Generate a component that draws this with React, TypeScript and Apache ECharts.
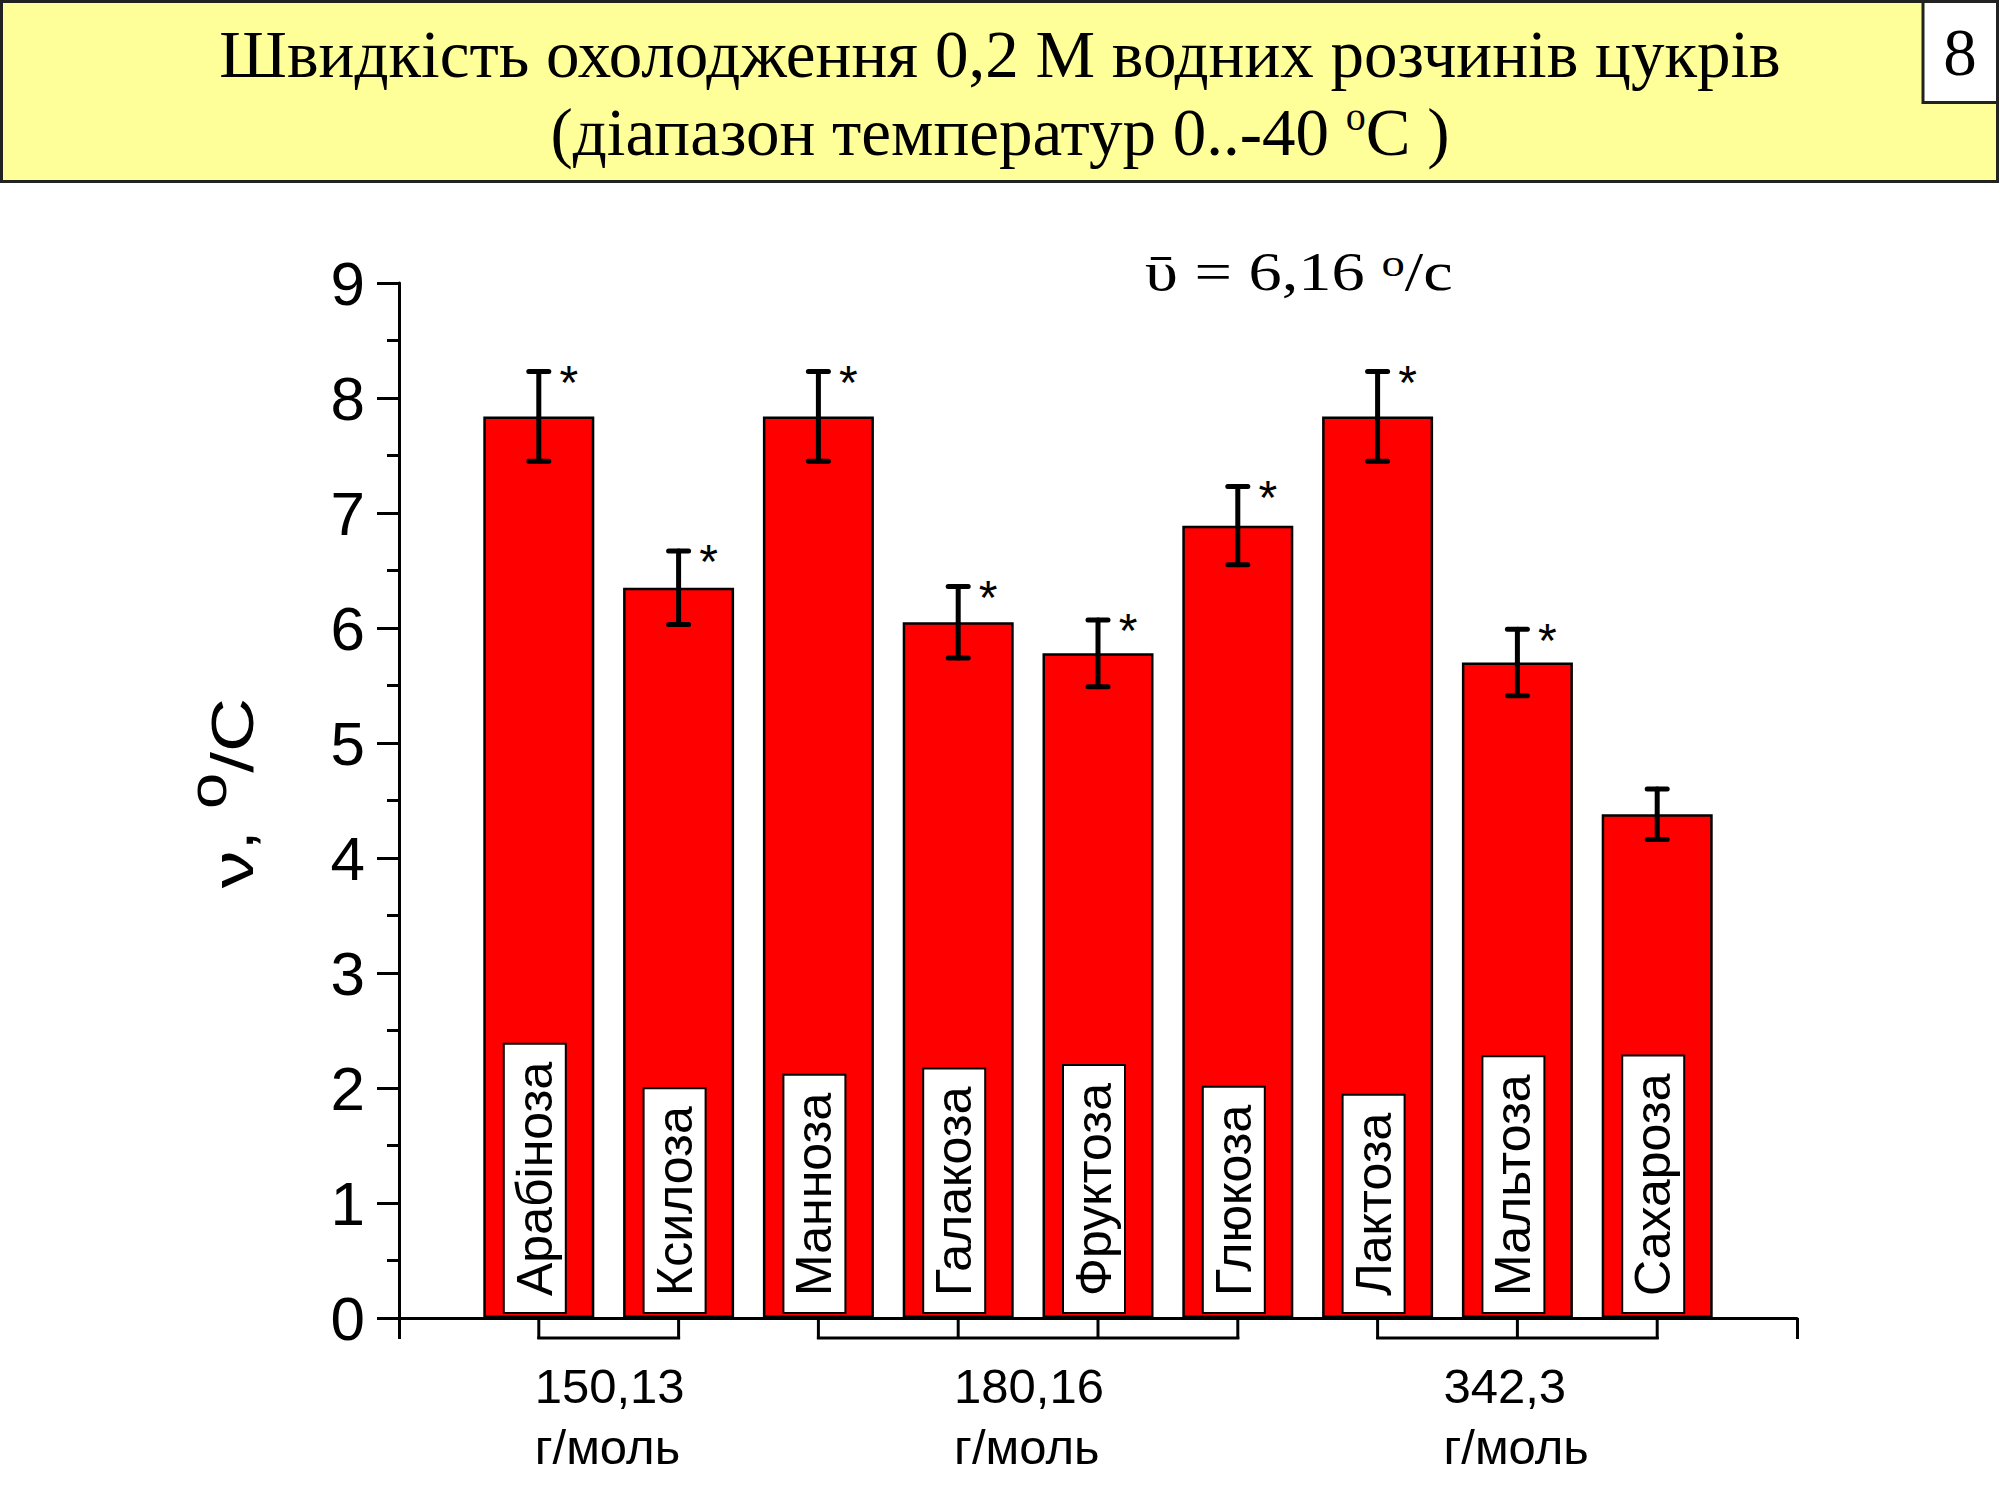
import React, { useEffect, useRef } from "react";
import * as echarts from "echarts";

const sugars = ["Арабіноза", "Ксилоза", "Манноза", "Галакоза", "Фруктоза", "Глюкоза", "Лактоза", "Мальтоза", "Сахароза"];
const rates = [7.84, 6.35, 7.84, 6.05, 5.78, 6.89, 7.84, 5.7, 4.38];
const errors = [0.39, 0.32, 0.39, 0.31, 0.29, 0.34, 0.39, 0.29, 0.22];
const significant = [true, true, true, true, true, true, true, true, false];
const positions = sugars.map((_, i) => i + 1);
const groupLabels = ["150,13\nг/моль", "180,16\nг/моль", "342,3\nг/моль"];
const groupRanges = [[1, 2], [3, 6], [7, 9]];
const yMin = 0;
const yMax = 9;
const yStep = 1;
const xMin = 0;
const xMax = 10;

const titleLine1 = "Швидкість охолодження 0,2 М водних розчинів цукрів";
const titleLine2 = "{n|(діапазон температур 0..-40 }{s|o}{n|С )}";
const slideNo = "8";
const meanNote = "{n|ῡ = 6,16 }{s|o}{n|/с}";
const yName = "{n|ν, }{s|o}{n|/С}";

const SANS = "'Liberation Sans', Arial, sans-serif";
const SERIF = "'Liberation Serif', 'Times New Roman', 'DejaVu Serif', serif";

function buildOption() {
  return {
    animation: false,
    backgroundColor: "#ffffff",
    grid: { left: 399, right: 203, top: 283, bottom: 182, containLabel: false },
    xAxis: {
      type: "value",
      min: xMin,
      max: xMax,
      interval: xMax - xMin,
      axisLine: { show: true, lineStyle: { color: "#000", width: 3 } },
      axisTick: { show: true, inside: false, length: 21, lineStyle: { color: "#000", width: 3 } },
      axisLabel: { show: false },
      splitLine: { show: false },
    },
    yAxis: {
      type: "value",
      min: yMin,
      max: yMax,
      interval: yStep,
      axisLine: { show: true, onZero: false, lineStyle: { color: "#000", width: 3 } },
      axisTick: { show: true, inside: false, length: 22, lineStyle: { color: "#000", width: 3 } },
      minorTick: { show: true, splitNumber: 2, length: 12, lineStyle: { color: "#000", width: 3 } },
      splitLine: { show: false },
      axisLabel: { fontSize: 62, color: "#000", fontFamily: SANS, margin: 34 },
    },
    series: [
      {
        type: "bar",
        data: positions.map((p, i) => [p, rates[i]]),
        barWidth: 111,
        itemStyle: { color: "#ff0000", borderColor: "#000", borderWidth: 2.5 },
        z: 2,
      },
      {
        type: "custom",
        data: positions.map((p) => [p, 0]),
        encode: { x: 0, y: 1 },
        z: 3,
        renderItem: (params: any, api: any) => {
          const p = api.coord([api.value(0), 0]);
          return {
            type: "text",
            x: p[0] - 4,
            y: p[1] - 6,
            rotation: Math.PI / 2,
            style: {
              text: sugars[params.dataIndex],
              fontSize: 50,
              fontFamily: SANS,
              fill: "#000",
              lineHeight: 50,
              backgroundColor: "#ffffff",
              borderColor: "#000",
              borderWidth: 2,
              padding: [5, 17, 5, 16],
              align: "left",
              verticalAlign: "middle",
            },
          };
        },
      },
      {
        type: "custom",
        data: positions.map((p, i) => [p, rates[i] - errors[i], rates[i] + errors[i]]),
        encode: { x: 0, y: [1, 2] },
        z: 4,
        renderItem: (params: any, api: any) => {
          const x = api.value(0);
          const lo = api.coord([x, api.value(1)]);
          const hi = api.coord([x, api.value(2)]);
          const st = { stroke: "#000", lineWidth: 5, lineCap: "round" };
          const children: any[] = [
            { type: "line", shape: { x1: lo[0], y1: lo[1], x2: hi[0], y2: hi[1] }, style: st },
            { type: "line", shape: { x1: lo[0] - 10, y1: lo[1], x2: lo[0] + 10, y2: lo[1] }, style: st },
            { type: "line", shape: { x1: hi[0] - 10, y1: hi[1], x2: hi[0] + 10, y2: hi[1] }, style: st },
          ];
          if (significant[params.dataIndex]) {
            children.push({
              type: "text",
              x: hi[0] + 30,
              y: hi[1] + 11,
              style: { text: "*", fontSize: 48, fontFamily: SANS, fill: "#000", align: "center", verticalAlign: "middle" },
            });
          }
          return { type: "group", children };
        },
      },
      {
        type: "custom",
        data: groupRanges.map((g) => [g[0], g[1], 0]),
        encode: { x: [0, 1], y: 2 },
        z: 4,
        renderItem: (params: any, api: any) => {
          const s = api.value(0);
          const e = api.value(1);
          const a = api.coord([s, 0]);
          const b = api.coord([e, 0]);
          const st = { stroke: "#000", lineWidth: 3 };
          const children: any[] = [
            { type: "line", shape: { x1: a[0] - 1.5, y1: a[1] + 20, x2: b[0] + 1.5, y2: b[1] + 20 }, style: st },
          ];
          for (let k = s; k <= e; k++) {
            const c = api.coord([k, 0]);
            children.push({ type: "line", shape: { x1: c[0], y1: c[1], x2: c[0], y2: c[1] + 21 }, style: st });
          }
          const mid = api.coord([(s + e) / 2, 0]);
          children.push({
            type: "text",
            x: mid[0] - 74,
            y: mid[1] + 37,
            style: {
              text: groupLabels[params.dataIndex],
              fontSize: 49,
              lineHeight: 61,
              fontFamily: SANS,
              fill: "#000",
              align: "left",
              verticalAlign: "top",
            },
          });
          return { type: "group", children };
        },
      },
    ],
    graphic: [
      {
        type: "rect",
        shape: { x: 1.5, y: 1.5, width: 1996, height: 180 },
        style: { fill: "#ffff99", stroke: "#222", lineWidth: 3 },
        z: 1,
      },
      {
        type: "rect",
        shape: { x: 1923, y: 1.5, width: 74.5, height: 101 },
        style: { fill: "#ffffff", stroke: "#222", lineWidth: 3 },
        z: 2,
      },
      {
        type: "text",
        x: 1960,
        y: 52,
        style: { text: slideNo, fontSize: 67, fontFamily: SERIF, fill: "#000", align: "center", verticalAlign: "middle" },
        z: 3,
      },
      {
        type: "text",
        x: 1000,
        y: 54,
        style: { text: titleLine1, fontSize: 67, fontFamily: SERIF, fill: "#000", align: "center", verticalAlign: "middle" },
        z: 3,
      },
      {
        type: "text",
        x: 1000,
        y: 132,
        style: {
          text: titleLine2,
          fill: "#000",
          align: "center",
          verticalAlign: "middle",
          rich: {
            n: { fontSize: 67, lineHeight: 72, fontFamily: SERIF, fill: "#000" },
            s: { fontSize: 40, lineHeight: 48, fontFamily: SERIF, fill: "#000", verticalAlign: "top" },
          },
        },
        z: 3,
      },
      {
        type: "text",
        x: 1145,
        y: 272,
        scaleX: 1.23,
        style: {
          text: meanNote,
          fill: "#000",
          align: "left",
          verticalAlign: "middle",
          rich: {
            n: { fontSize: 54, lineHeight: 56, fontFamily: SERIF, fill: "#000" },
            s: { fontSize: 38, lineHeight: 33, fontFamily: SERIF, fill: "#000", verticalAlign: "top" },
          },
        },
        z: 3,
      },
      {
        type: "text",
        x: 232,
        y: 793,
        rotation: Math.PI / 2,
        scaleX: 1.25,
        style: {
          text: yName,
          fill: "#000",
          align: "center",
          verticalAlign: "middle",
          rich: {
            n: { fontSize: 60, lineHeight: 100, fontFamily: SANS, fill: "#000" },
            s: { fontSize: 52, lineHeight: 30, fontFamily: SANS, fill: "#000", verticalAlign: "top" },
          },
        },
        z: 3,
      },
    ],
  };
}

export default function App() {
  const ref = useRef<HTMLDivElement>(null);
  useEffect(() => {
    document.body.style.margin = "0";
    const chart = echarts.init(ref.current as HTMLDivElement, undefined, { renderer: "svg" });
    chart.setOption(buildOption() as any);
    return () => {
      chart.dispose();
    };
  }, []);
  return <div ref={ref} style={{ width: 2000, height: 1500 }} />;
}
